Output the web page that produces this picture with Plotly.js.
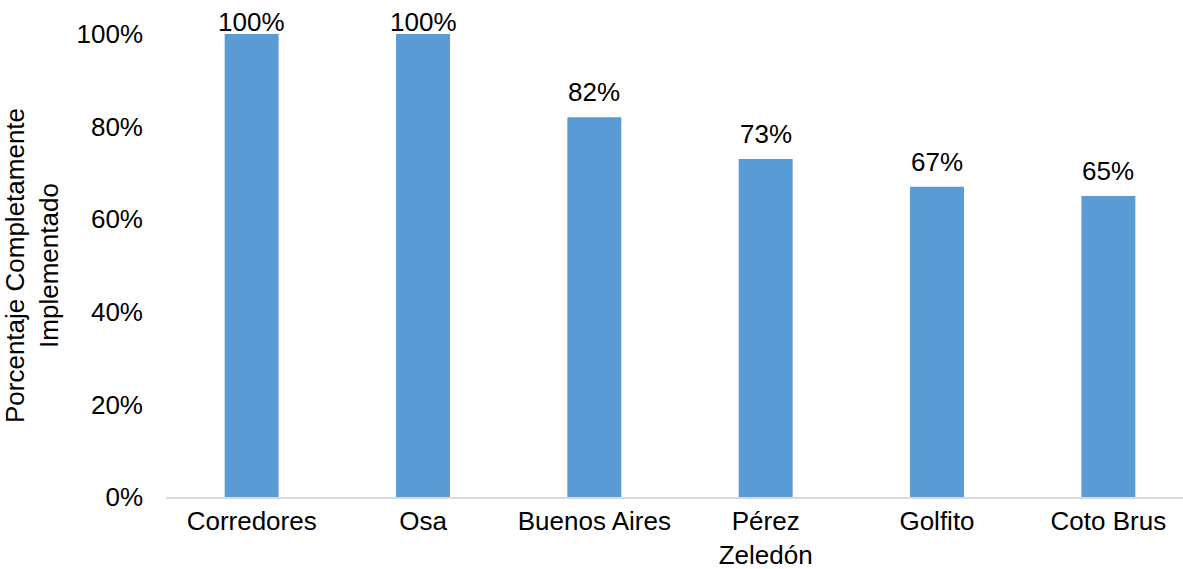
<!DOCTYPE html>
<html><head><meta charset="utf-8">
<script src="https://cdn.plot.ly/plotly-3.0.1.min.js"></script>
<style>html,body{margin:0;padding:0;overflow:hidden;background:#fff}</style>
</head><body>
<div id="chart"></div>
<script>
const categories = ["Corredores", "Osa", "Buenos Aires", "Pérez<br>Zeledón", "Golfito", "Coto Brus"];
const values = [1.00, 1.00, 0.82, 0.73, 0.67, 0.65];
const labels = ["100%", "100%", "82%", "73%", "67%", "65%"];

const FONT = "Liberation Sans, Arial, sans-serif";
const FS = 26;
const H = 569, MT = 34, MB = 72, PH = H - MT - MB;

const annotations = values.map((v, i) => {
  const barTop = MT + PH * (1 - v);
  const center = Math.max(barTop - 25, 22);
  return {
    x: categories[i], y: v, xref: "x", yref: "y",
    text: labels[i], showarrow: false, yanchor: "middle",
    yshift: barTop - center,
    font: {family: FONT, size: FS, color: "#000"}
  };
});

const trace = {
  type: "bar", x: categories, y: values,
  marker: {color: "#5b9bd5"}, hoverinfo: "none"
};

const layout = {
  width: 1195, height: H, autosize: false,
  margin: {l: 166, r: 1, t: MT, b: MB},
  paper_bgcolor: "#fff", plot_bgcolor: "#fff",
  bargap: 0.685, showlegend: false,
  font: {family: FONT, size: FS, color: "#000"},
  xaxis: {
    type: "category", showgrid: false, zeroline: false,
    showline: true, linecolor: "#d9d9d9", linewidth: 1.5,
    ticks: "", ticklabelstandoff: 0,
    tickfont: {family: FONT, size: FS, color: "#000"}
  },
  yaxis: {
    range: [0, 1], dtick: 0.2, tickformat: ".0%",
    showgrid: false, zeroline: false, showline: false, ticks: "",
    ticklabelstandoff: 22,
    tickfont: {family: FONT, size: FS, color: "#000"},
    title: {text: "Porcentaje Completamente<br>Implementado", standoff: 12,
            font: {family: FONT, size: FS, color: "#000"}}
  },
  annotations: annotations
};

Plotly.newPlot("chart", [trace], layout, {staticPlot: true, displayModeBar: false});
</script>
</body></html>
